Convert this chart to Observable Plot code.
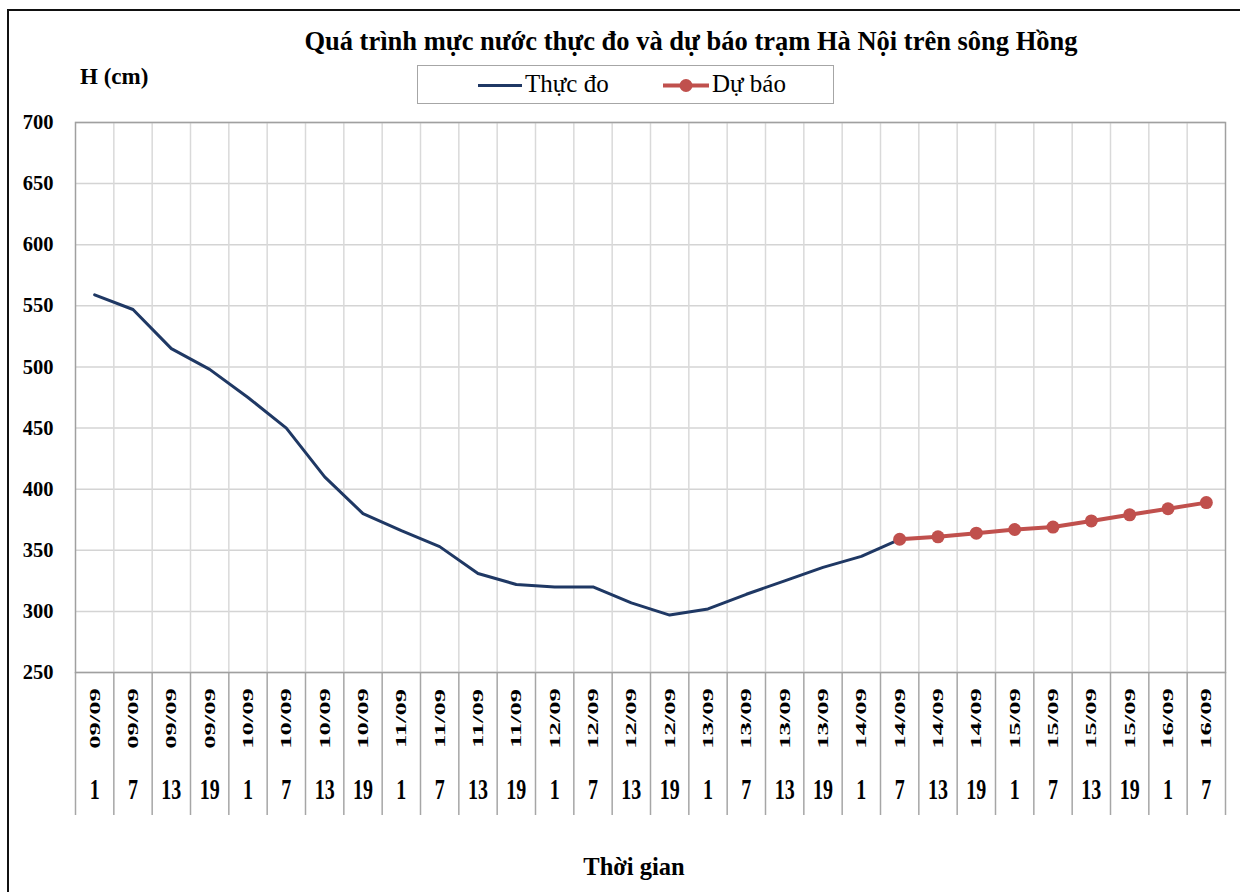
<!DOCTYPE html>
<html>
<head>
<meta charset="utf-8">
<script src="https://cdn.jsdelivr.net/npm/d3@7"></script>
<script src="https://cdn.jsdelivr.net/npm/@observablehq/plot@0.6"></script>
<style>
  body { margin: 0; background: #fff; }
  #wrap { position: relative; width: 1240px; height: 892px; overflow: hidden; background: #fff;
          font-family: "Liberation Serif", "Times New Roman", serif; color: #000; }
  #frame { position: absolute; left: 7px; top: 9px; width: 1400px; height: 1000px; border: 2px solid #111; box-sizing: border-box; }
  #title { position: absolute; left: 0; width: 1382px; top: 26px; text-align: center; font-weight: bold; font-size: 26.5px; white-space: nowrap; }
  #ylab { position: absolute; left: 80px; top: 64px; font-weight: bold; font-size: 23px; }
  #legend { position: absolute; left: 417px; top: 65px; width: 417px; height: 39px; border: 1.5px solid #a6a6a6; box-sizing: border-box; }
  .lg { position: absolute; top: 4px; font-size: 25px; white-space: nowrap; }
  #xlab { position: absolute; left: 0; width: 1268px; top: 853px; text-align: center; font-weight: bold; font-size: 24.5px; }
  #chart { position: absolute; left: 0; top: 0; }
</style>
</head>
<body>
<div id="wrap">
  <div id="chart"></div>
  <div id="frame"></div>
  <div id="title">Quá trình mực nước thực đo và dự báo trạm Hà Nội trên sông Hồng</div>
  <div id="ylab">H (cm)</div>
  <div id="legend">
    <svg width="417" height="39" style="position:absolute;left:0;top:0">
      <line x1="60" x2="104" y1="19.5" y2="19.5" stroke="#1f3864" stroke-width="3"/>
      <line x1="245" x2="291" y1="19.5" y2="19.5" stroke="#c0504d" stroke-width="4"/>
      <circle cx="268" cy="19.5" r="6.5" fill="#c0504d"/>
    </svg>
    <span class="lg" style="left:107px">Thực đo</span>
    <span class="lg" style="left:294px">Dự báo</span>
  </div>
  <div id="xlab">Thời gian</div>
</div>
<script>
const dates = ["09/09","09/09","09/09","09/09","10/09","10/09","10/09","10/09",
  "11/09","11/09","11/09","11/09","12/09","12/09","12/09","12/09",
  "13/09","13/09","13/09","13/09","14/09","14/09","14/09","14/09",
  "15/09","15/09","15/09","15/09","16/09","16/09"];
const hours = ["1","7","13","19","1","7","13","19","1","7","13","19","1","7","13","19",
  "1","7","13","19","1","7","13","19","1","7","13","19","1","7"];
const observed = [559,547,515,498,475,450,410,380,366,353,331,322,320,320,307,297,302,314,325,336,345,359];
const forecastStart = 21;
const forecast = [359,361,364,367,369,374,379,384,389];
const yTicks = [250,300,350,400,450,500,550,600,650,700];

const font = '"Liberation Serif", "Times New Roman", serif';
const cats = dates.map((d, i) => ({i, date: d, hour: hours[i]}));
const obsData = observed.map((v, i) => ({i, v}));
const fcData = forecast.map((v, k) => ({i: forecastStart + k, v}));

const chart = Plot.plot({
  width: 1240,
  height: 892,
  marginLeft: 75,
  marginRight: 15,
  marginTop: 122,
  marginBottom: 220,
  style: {fontFamily: font, background: "transparent", overflow: "visible"},
  x: {type: "linear", domain: [0, dates.length], axis: null, label: null},
  y: {domain: [250, 700], axis: null, label: null},
  marks: [
    Plot.gridY(yTicks, {stroke: "#d4d4d4", strokeOpacity: 1, strokeWidth: 1.5}),
    Plot.ruleX(d3.range(1, dates.length), {stroke: "#d9d9d9", strokeWidth: 1.5}),
    Plot.axisY(yTicks, {tickSize: 0, tickPadding: 22, fontSize: 20.5, fontWeight: "bold", fill: "#000", label: null}),
    Plot.axisX(d3.range(0, dates.length + 1), {tickSize: 143, tickFormat: () => "", stroke: "#a6a6a6", strokeWidth: 1.5, strokeOpacity: 1, label: null}),
    Plot.frame({stroke: "#a0a0a0", strokeWidth: 1.5}),
    Plot.text(cats, {x: d => d.i + 0.5, text: "date", frameAnchor: "bottom", dy: 46, rotate: -90,
      fontSize: 15.5, fontWeight: "bold", fill: "#000", textAnchor: "middle", lineAnchor: "middle"}),
    Plot.text(cats, {x: d => d.i + 0.5, text: "hour", frameAnchor: "bottom", dy: 117,
      fontSize: 20, fontWeight: "bold", fill: "#000", textAnchor: "middle", lineAnchor: "middle"}),
    Plot.line(obsData, {x: d => d.i + 0.5, y: "v", stroke: "#1f3864", strokeWidth: 3}),
    Plot.line(fcData, {x: d => d.i + 0.5, y: "v", stroke: "#c0504d", strokeWidth: 4}),
    Plot.dot(fcData, {x: d => d.i + 0.5, y: "v", r: 6.5, fill: "#c0504d", stroke: "none"})
  ]
});
document.getElementById("chart").appendChild(chart);

// stretch category labels the way the reference renders them (taller glyphs)
const textGroups = chart.querySelectorAll('g[aria-label="text"]');
function stretch(group, scale) {
  if (!group) return;
  group.querySelectorAll("text").forEach(el => {
    let t = el.getAttribute("transform");
    if (!t) {
      const x = +el.getAttribute("x") || 0, y = +el.getAttribute("y") || 0;
      t = `translate(${x},${y})`;
      el.removeAttribute("x"); el.removeAttribute("y");
    }
    el.setAttribute("transform", `${t} ${scale}`);
  });
}
stretch(textGroups[0], "scale(1.72,1)");
stretch(textGroups[1], "scale(1,1.45)");
</script>
</body>
</html>
